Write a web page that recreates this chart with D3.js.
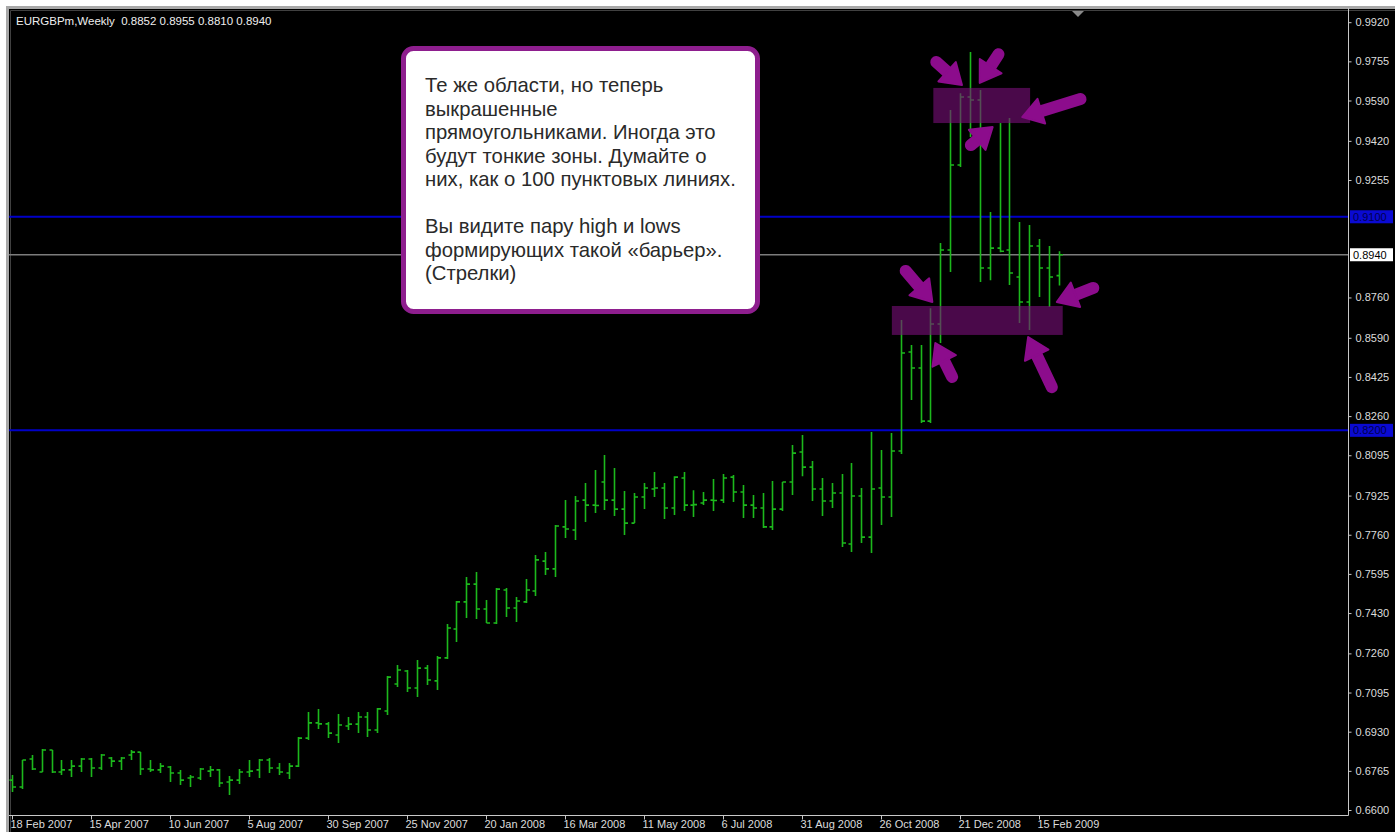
<!DOCTYPE html>
<html><head><meta charset="utf-8">
<script src="https://cdn.jsdelivr.net/npm/d3@7"></script>
<style>
html,body{margin:0;padding:0;background:#fff;overflow:hidden}
svg{display:block}
</style></head><body>
<svg id="c" width="1395" height="832"></svg>
<script>
const chartTitle = "EURGBPm,Weekly  0.8852 0.8955 0.8810 0.8940";
const opens = [0.6726,0.6697,0.6815,0.6760,0.6853,0.6760,0.6769,0.6785,0.6815,0.6777,
0.6819,0.6806,0.6832,0.6844,0.6773,0.6769,0.6781,0.6756,0.6735,0.6735,
0.6764,0.6769,0.6718,0.6726,0.6760,0.6769,0.6811,0.6777,0.6756,0.6785,
0.6903,0.6967,0.6963,0.6916,0.6954,0.6962,0.6992,0.6937,0.7017,0.7131,
0.7186,0.7114,0.7198,0.7144,0.7241,0.7363,0.7477,0.7552,0.7447,0.7388,
0.7527,0.7451,0.7477,0.7523,0.7649,0.7616,0.7793,0.7780,0.7906,0.7885,
0.7982,0.7906,0.7868,0.7809,0.7919,0.7953,0.7957,0.7873,0.7999,0.7885,
0.7894,0.7906,0.7906,0.8003,0.7940,0.7885,0.7873,0.7793,0.7868,0.7982,
0.8109,0.8045,0.7953,0.7902,0.7936,0.7721,0.7923,0.7750,0.7957,0.7919,
0.8113,0.8530,0.8463,0.8239,0.8648,0.8960,0.9318,0.9605,0.9592,0.8884,
0.8968,0.8960,0.8846,0.8741,0.8977,0.8884,0.8852];
const highs = [0.6747,0.6811,0.6832,0.6857,0.6853,0.6811,0.6811,0.6819,0.6819,0.6836,
0.6823,0.6823,0.6853,0.6844,0.6811,0.6798,0.6785,0.6769,0.6747,0.6777,
0.6785,0.6773,0.6743,0.6773,0.6811,0.6815,0.6819,0.6798,0.6798,0.6908,
0.7013,0.7026,0.6971,0.7005,0.6992,0.7013,0.7013,0.7030,0.7165,0.7211,
0.7190,0.7232,0.7211,0.7249,0.7384,0.7481,0.7582,0.7603,0.7485,0.7536,
0.7536,0.7498,0.7573,0.7675,0.7687,0.7801,0.7906,0.7923,0.7978,0.8033,
0.8096,0.8041,0.7944,0.7936,0.7978,0.8024,0.7978,0.8007,0.8024,0.7948,
0.7940,0.7995,0.8016,0.8012,0.7970,0.7927,0.7936,0.7986,0.7982,0.8138,
0.8180,0.8071,0.7999,0.7978,0.8016,0.8062,0.7957,0.8193,0.8117,0.8189,
0.8665,0.8560,0.8560,0.8715,0.8989,0.9550,0.9621,0.9794,0.9634,0.9120,
0.9495,0.9516,0.9078,0.9065,0.9006,0.8977,0.8955];
const lows = [0.6676,0.6688,0.6769,0.6760,0.6756,0.6747,0.6739,0.6760,0.6739,0.6769,
0.6781,0.6769,0.6811,0.6747,0.6760,0.6756,0.6718,0.6705,0.6697,0.6726,
0.6739,0.6697,0.6663,0.6710,0.6739,0.6735,0.6756,0.6747,0.6731,0.6781,
0.6895,0.6941,0.6903,0.6882,0.6937,0.6924,0.6908,0.6924,0.7000,0.7118,
0.7097,0.7076,0.7127,0.7106,0.7236,0.7308,0.7409,0.7405,0.7388,0.7384,
0.7413,0.7392,0.7472,0.7502,0.7590,0.7582,0.7746,0.7738,0.7814,0.7852,
0.7864,0.7839,0.7759,0.7809,0.7868,0.7919,0.7826,0.7843,0.7860,0.7835,
0.7885,0.7860,0.7894,0.7898,0.7831,0.7831,0.7788,0.7780,0.7860,0.7927,
0.8007,0.7902,0.7839,0.7873,0.7708,0.7687,0.7725,0.7683,0.7801,0.7835,
0.8100,0.8328,0.8231,0.8231,0.8568,0.8867,0.9310,0.9436,0.8825,0.8833,
0.8950,0.8812,0.8652,0.8623,0.8762,0.8720,0.8810];
const closes = [0.6697,0.6811,0.6773,0.6853,0.6760,0.6769,0.6785,0.6815,0.6777,0.6832,
0.6806,0.6819,0.6844,0.6773,0.6769,0.6785,0.6756,0.6726,0.6739,0.6773,
0.6769,0.6714,0.6726,0.6760,0.6764,0.6811,0.6777,0.6760,0.6785,0.6903,
0.6967,0.6963,0.6924,0.6958,0.6962,0.6992,0.6937,0.7026,0.7160,0.7190,
0.7114,0.7198,0.7148,0.7241,0.7367,0.7477,0.7552,0.7447,0.7388,0.7531,
0.7451,0.7481,0.7527,0.7654,0.7616,0.7797,0.7784,0.7902,0.7885,0.7883,
0.7906,0.7868,0.7809,0.7919,0.7957,0.7957,0.7873,0.8003,0.7885,0.7887,
0.7906,0.7904,0.7999,0.7940,0.7885,0.7873,0.7793,0.7868,0.7982,0.8104,
0.8045,0.7953,0.7902,0.7936,0.7725,0.7923,0.7750,0.7953,0.7919,0.8113,
0.8526,0.8463,0.8239,0.8648,0.8960,0.9318,0.9605,0.9592,0.8884,0.8968,
0.8955,0.8863,0.8741,0.8977,0.8884,0.8846,0.8940];
const dateTickLabels = ["18 Feb 2007","15 Apr 2007","10 Jun 2007","5 Aug 2007","30 Sep 2007",
"25 Nov 2007","20 Jan 2008","16 Mar 2008","11 May 2008","6 Jul 2008","31 Aug 2008",
"26 Oct 2008","21 Dec 2008","15 Feb 2009"];
const dateTickStep = 8; // weeks between labels
const priceTicks = [0.9920,0.9755,0.9590,0.9420,0.9255,0.8760,0.8590,0.8425,
0.8260,0.8095,0.7925,0.7760,0.7595,0.7430,0.7260,0.7095,0.6930,0.6765,0.6600];
const levelPrices = [0.9100, 0.8200];
const currentPrice = 0.8940;
// zones: [startBar, endBar, lowPrice, highPrice]
const zoneTop = [93.3, 103.1, 0.9495, 0.9643];
const zoneBottom = [89.1, 106.4, 0.8602, 0.8724];
// arrows: [tailBar, tailPrice, tipBar, tipPrice]
const arrowList = [
 [93.6, 0.9752, 96.2, 0.9655],
 [99.9, 0.9785, 98.0, 0.9664],
 [108.2, 0.9596, 102.3, 0.9520],
 [97.1, 0.9402, 99.3, 0.9478],
 [90.5, 0.8872, 93.2, 0.8741],
 [95.2, 0.8425, 93.5, 0.8568],
 [105.3, 0.8382, 102.9, 0.8593],
 [109.5, 0.8800, 105.8, 0.8741]
];
const noteLines = ["Те же области, но теперь","выкрашенные","прямоугольниками. Иногда это",
"будут тонкие зоны. Думайте о","них, как о 100 пунктовых линиях.","",
"Вы видите пару high и lows","формирующих такой «барьер».","(Стрелки)"];

const svg = d3.select("#c");
const W = 1395, H = 832;
const plotL = 9, plotR = 1348, plotT = 8, plotB = 815;
const x = d3.scaleLinear().domain([0, opens.length - 1]).range([12, 1058.75]);
const y = d3.scaleLinear().domain([0.66, 0.992]).range([810, 22.2]);

// window frame
svg.append("rect").attr("x",0).attr("y",0).attr("width",W).attr("height",H).attr("fill","#ffffff");
svg.append("rect").attr("x",6).attr("y",6).attr("width",W-6).attr("height",H-6).attr("fill","#000");
svg.append("path").attr("d",`M7.5,${H} V7.5 H${W}`).attr("stroke","#a8a8a8").attr("stroke-width",3).attr("fill","none");
svg.append("path").attr("d",`M10.5,${H} V10.5 H${W}`).attr("stroke","#404040").attr("stroke-width",1).attr("fill","none");

const font = "'Liberation Sans', Arial, sans-serif";

// axes lines
svg.append("path").attr("d",`M${plotR+0.5},${plotT} V${plotB+0.5} H${plotL}`)
  .attr("stroke","#c8c8c8").attr("stroke-width",1).attr("fill","none");

// right axis
const yAxis = d3.axisRight(y).tickValues(priceTicks).tickFormat(d3.format(".4f")).tickSize(3).tickPadding(4);
const ga = svg.append("g").attr("transform",`translate(${plotR+0.5},0)`).call(yAxis);
ga.select(".domain").remove();
ga.selectAll("line").attr("stroke","#c8c8c8");
ga.selectAll("text").attr("fill","#dcdcdc").style("font-family",font).style("font-size","11px");

// bottom axis
const tickIdx = dateTickLabels.map((_, i) => i * dateTickStep);
const xAxis = d3.axisBottom(x).tickValues(tickIdx).tickFormat((d, i) => dateTickLabels[i]).tickSize(4).tickPadding(1);
const gx = svg.append("g").attr("transform",`translate(0,${plotB+0.5})`).call(xAxis);
gx.select(".domain").remove();
gx.selectAll("line").attr("stroke","#c8c8c8");
gx.selectAll("text").attr("fill","#dcdcdc").attr("text-anchor","start").attr("dx",-2)
  .style("font-family",font).style("font-size","11px");

// horizontal levels
const lvl = svg.append("g");
levelPrices.forEach(p => {
  lvl.append("line").attr("x1",plotL).attr("x2",plotR).attr("y1",y(p)).attr("y2",y(p))
    .attr("stroke","#0000c8").attr("stroke-width",2);
});
lvl.append("line").attr("x1",plotL).attr("x2",plotR).attr("y1",y(currentPrice)).attr("y2",y(currentPrice))
  .attr("stroke","#7c7c7c").attr("stroke-width",1.5);

// bars
const bars = svg.append("g").attr("stroke","#1cb81c").attr("stroke-width",1.6).attr("fill","none");
opens.forEach((o, i) => {
  const xi = Math.round(x(i)) + 0.5;
  bars.append("path").attr("d",
    `M${xi},${y(highs[i])} V${y(lows[i])} M${xi-3},${y(o)} H${xi} M${xi},${y(closes[i])} H${xi+3.5}`);
});

// zones
[zoneTop, zoneBottom].forEach(z => {
  svg.append("rect").attr("x",x(z[0])).attr("y",y(z[3])).attr("width",x(z[1])-x(z[0]))
    .attr("height",y(z[2])-y(z[3])).attr("fill","rgb(120,14,120)").attr("opacity",0.62);
});

// arrows
const ag = svg.append("g");
arrowList.forEach(a => {
  const tx = x(a[0]), ty = y(a[1]), hx = x(a[2]), hy = y(a[3]);
  const dx = hx - tx, dy = hy - ty, len = Math.hypot(dx, dy);
  const ux = dx / len, uy = dy / len, nx = -uy, ny = ux;
  const hl = 20, hw = 13;
  const bx = hx - ux * hl, by = hy - uy * hl;
  ag.append("line").attr("x1",tx).attr("y1",ty).attr("x2",bx + ux*2).attr("y2",by + uy*2)
    .attr("stroke","#8c0c8c").attr("stroke-width",12).attr("stroke-linecap","round");
  ag.append("path").attr("d",`M${hx},${hy} L${bx+nx*hw},${by+ny*hw} L${bx-nx*hw},${by-ny*hw} Z`)
    .attr("fill","#8c0c8c").attr("stroke","#8c0c8c").attr("stroke-width",2).attr("stroke-linejoin","round");
});

// price markers on axis
function marker(p, bg, fg) {
  const g = svg.append("g");
  g.append("rect").attr("x",plotR+2).attr("y",y(p)-6.5).attr("width",W-plotR-4).attr("height",13).attr("fill",bg);
  g.append("text").attr("x",plotR+5).attr("y",y(p)).attr("dy","0.35em").text(d3.format(".4f")(p))
    .attr("fill",fg).style("font-family",font).style("font-size","11px");
}
levelPrices.forEach(p => marker(p, "#0a0ad2", "#000050"));
marker(currentPrice, "#ffffff", "#000000");

// chart shift triangle
svg.append("path").attr("d","M1072,11 L1084,11 L1078,17 Z").attr("fill","#8a8a8a");

// title
svg.append("text").attr("x",16).attr("y",25).text(chartTitle).attr("fill","#eeeeee")
  .style("font-family",font).style("font-size","11.5px").style("white-space","pre");

// note box
const nb = svg.append("g");
nb.append("rect").attr("x",403.5).attr("y",48.5).attr("width",354).attr("height",263).attr("rx",10)
  .attr("fill","#ffffff").attr("stroke","#8e1e8e").attr("stroke-width",5);
nb.selectAll("text.n").data(noteLines).join("text").attr("class","n")
  .attr("x",425).attr("y",(d, i) => 92 + i * 23.5).text(d => d)
  .attr("fill","#2a2a2a").style("font-family",font).style("font-size","20.3px");
</script>
</body></html>
